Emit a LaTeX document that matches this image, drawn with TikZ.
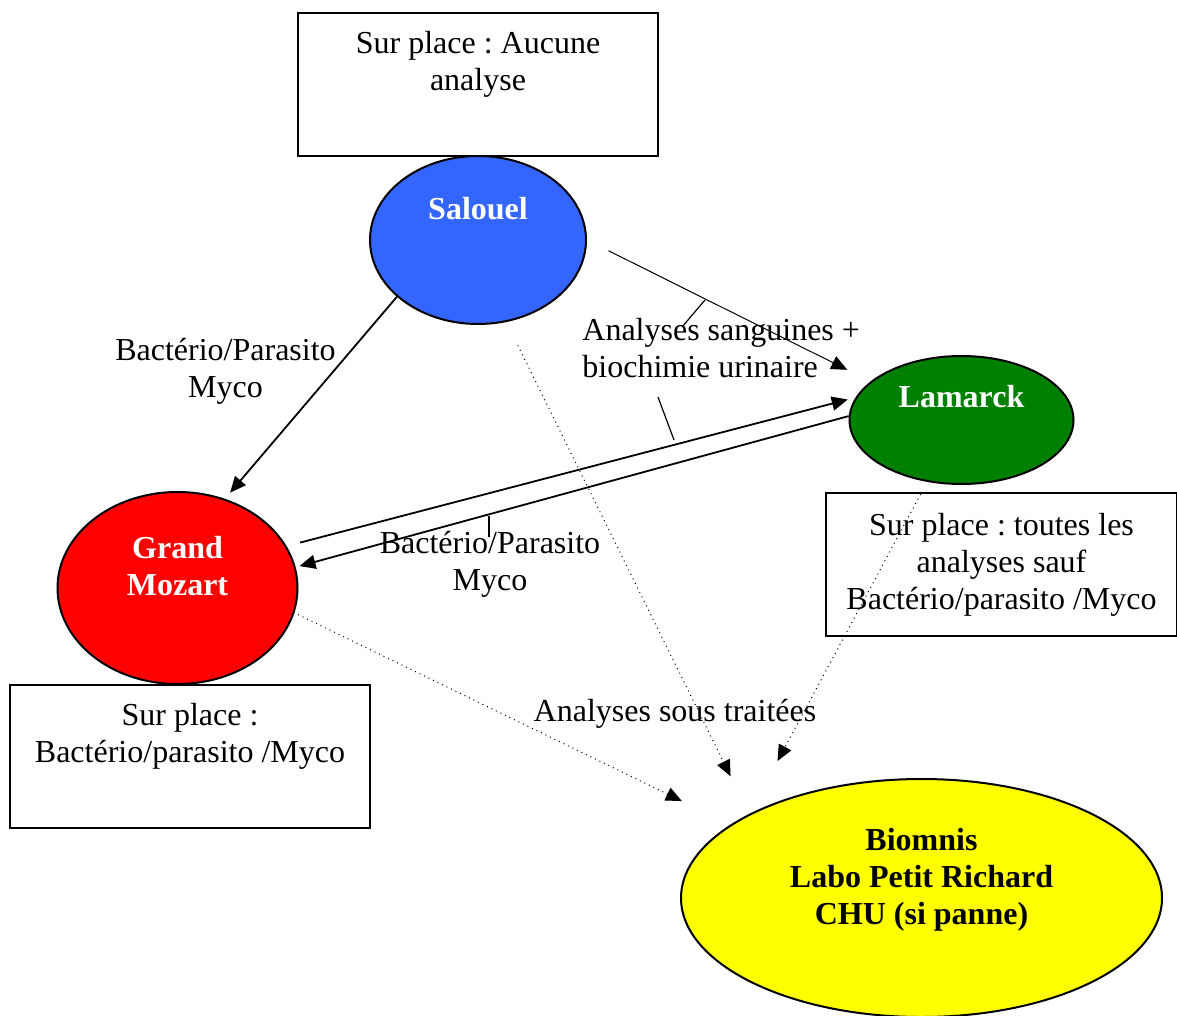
\documentclass[tikz,border=0pt]{standalone}
\usepackage{fontspec}
\setmainfont{Liberation Serif}
\usepackage{xcolor}
\usepackage{tikz}
\usetikzlibrary{arrows.meta, shapes.geometric, positioning}
\frenchspacing

\definecolor{bleuSalouel}{HTML}{3366FF}
\definecolor{vertLamarck}{HTML}{008000}
\definecolor{rougeMozart}{HTML}{FF0000}
\definecolor{jauneBiomnis}{HTML}{FFFF00}

\begin{document}
\begin{tikzpicture}[x=0.5pt, y=-0.5pt, >={Triangle[length=8pt,width=7pt]},
    font=\fontsize{16}{18.5}\selectfont,
    site/.style={ellipse, draw, line width=1pt, inner sep=0pt},
    nomsite/.style={font=\fontsize{16}{18.5}\selectfont\bfseries, align=center},
    boite/.style={draw, line width=0.8pt, align=center, minimum height=71.5pt},
    fleche/.style={->, line width=0.9pt},
    pointille/.style={->, dotted, line width=0.5pt},
    renvoi/.style={line width=0.6pt}]

    \useasboundingbox (0,0) rectangle (1177,1016);

    % =================================================================
    % LES SITES (ellipses)
    % =================================================================
    \node[site, fill=bleuSalouel, minimum width=108pt, minimum height=84pt] (sal) at (478,240) {};
    \node[site, fill=vertLamarck, minimum width=112pt, minimum height=64pt] (lam) at (961.5,420) {};
    \node[site, fill=rougeMozart, minimum width=120pt, minimum height=96pt] (gm) at (177.5,588) {};
    \node[site, fill=jauneBiomnis, minimum width=240.5pt, minimum height=119pt] (bio) at (921.5,898) {};

    % Noms des sites
    \node[nomsite, text=white] (salNom) at (478,209) {Salouel};
    \node[nomsite, text=white] (lamNom) at (961.5,397) {Lamarck};
    \node[nomsite, text=white] (gmNom) at (177.5,566.5) {Grand\\Mozart};
    \node[nomsite] (bioNom) at (921.5,880) {Biomnis\\Labo Petit Richard\\CHU (si panne)};

    % =================================================================
    % LES CADRES "SUR PLACE"
    % =================================================================
    \node[boite, minimum width=180pt] (boiteSal) at (478,84.5) {Sur place : Aucune\\analyse\\\strut};
    \node[boite, minimum width=180pt] (boiteGm) at (190,756.5) {Sur place :\\Bactério/parasito /Myco\\\strut};
    \node[boite, minimum width=175.5pt] (boiteLam) at (1001.5,564.5) {Sur place : toutes les\\analyses sauf\\Bactério/parasito /Myco};

    % =================================================================
    % LES FLUX
    % =================================================================
    \draw[fleche, shorten >=4pt] (sal.215) -- (gm.62);
    \draw[fleche, line width=0.5pt, shorten <=12pt, shorten >=13pt] (sal.0) -- (lam.157);
    \draw[fleche, shorten <=7pt, shorten >=4pt] (gm.21.7) -- (lam.168.5);
    \draw[fleche, shorten >=2pt] (lam.178) -- (gm.10.8);

    % Envois vers Biomnis (pointillés)
    \draw[pointille, shorten <=13pt, shorten >=21pt] (sal.-71.9) -- (bio.154.8);
    \draw[pointille, shorten <=7pt, shorten >=30pt] (lam.241.9) -- (bio.154);
    \draw[pointille, shorten <=2pt, shorten >=27pt] (gm.-12.2) -- (bio.159.8);

    % =================================================================
    % ÉTIQUETTES DES FLUX
    % =================================================================
    \node[align=center] (labGauche) at (225.5,371) {Bactério/Parasito\\Myco};
    \node[align=left, anchor=west, inner sep=0pt] (labSang) at (582,348) {Analyses sanguines +\\biochimie urinaire};
    \node[align=center] (labMilieu) at (490,564) {Bactério/Parasito\\Myco};
    \node (labSous) at (675,714) {Analyses sous traitées};

    % Traits de renvoi
    \coordinate (rvA1) at (682,327);
    \coordinate (rvA2) at (705,300);
    \coordinate (rvB1) at (658,397);
    \coordinate (rvB2) at (674,440);
    \coordinate (rvC1) at (489,516);
    \coordinate (rvC2) at (489,537);
    \draw[renvoi] (rvA1) -- (rvA2);
    \draw[renvoi] (rvB1) -- (rvB2);
    \draw[renvoi] (rvC1) -- (rvC2);

\end{tikzpicture}
\end{document}
